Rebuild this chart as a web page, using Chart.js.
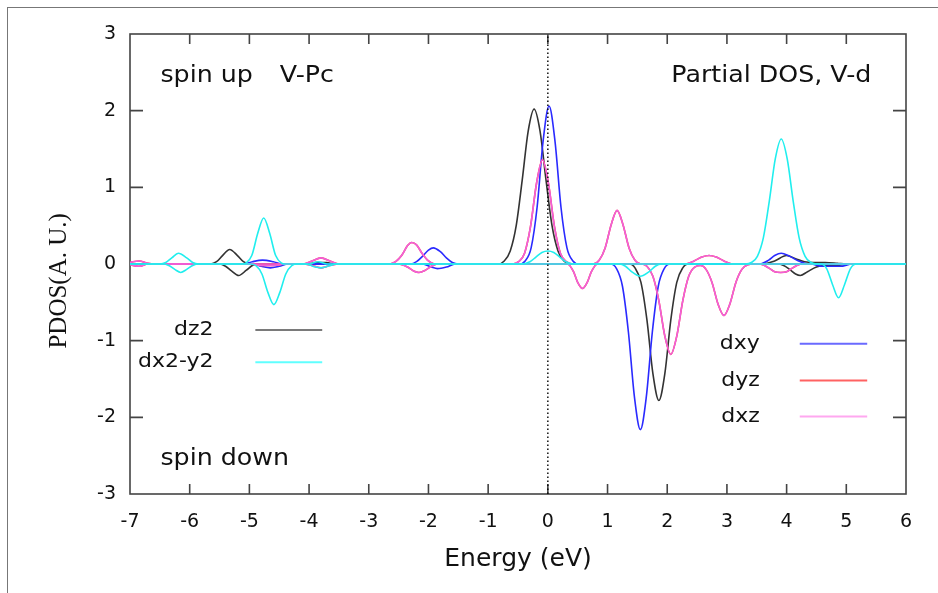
<!DOCTYPE html>
<html>
<head>
<meta charset="utf-8">
<title>Partial DOS, V-d</title>
<script src="https://cdn.jsdelivr.net/npm/chart.js@4.4.1/dist/chart.umd.min.js"></script>
<style>
  html, body { margin:0; padding:0; background:#fff; }
  #wrap { position:relative; width:938px; height:593px; overflow:hidden; }
  #frame { position:absolute; left:7px; top:7px; right:-10px; bottom:-10px; border-left:1.5px solid #777; border-top:1.5px solid #777; }
  #c { position:absolute; left:0; top:0; }
</style>
</head>
<body>
<div id="wrap"><div id="frame"></div><canvas id="c" width="938" height="593"></canvas></div>
<script>
// ----- Data: [energy (eV), PDOS] -----
const dz2Up = [[-7,0],[-5.65,0],[-5.55,0.03],[-5.45,0.11],[-5.33,0.19],[-5.2,0.11],[-5.1,0.03],[-5.0,0],[-4.0,0],[-3.9,0.02],[-3.7,0.02],[-3.6,0],
  [-0.83,0],[-0.73,0.04],[-0.63,0.17],[-0.53,0.50],[-0.43,1.09],[-0.33,1.73],[-0.23,2.02],[-0.13,1.73],[-0.03,1.09],[0.07,0.50],[0.17,0.17],[0.27,0.04],[0.37,0],
  [3.6,0],[3.8,0.04],[4.0,0.11],[4.15,0.07],[4.3,0.03],[4.45,0.02],[4.65,0.02],[4.85,0.01],[5.0,0],[6,0]];
const dz2Dn = [[-7,0],[-5.5,0],[-5.4,-0.03],[-5.3,-0.09],[-5.18,-0.15],[-5.05,-0.08],[-4.95,-0.02],[-4.85,0],
  [1.36,0],[1.46,-0.05],[1.56,-0.24],[1.66,-0.73],[1.76,-1.43],[1.86,-1.78],[1.96,-1.43],[2.06,-0.73],[2.16,-0.24],[2.26,-0.05],[2.36,0],
  [3.85,0],[3.95,-0.02],[4.05,-0.07],[4.15,-0.13],[4.23,-0.15],[4.35,-0.1],[4.5,-0.04],[4.65,-0.02],[4.85,-0.02],[5.0,0],[6,0]];

const dxyUp = [[-7,0],[-5.1,0],[-4.95,0.03],[-4.78,0.05],[-4.6,0.03],[-4.45,0],
  [-2.3,0],[-2.2,0.03],[-2.1,0.1],[-2.0,0.18],[-1.92,0.21],[-1.8,0.16],[-1.7,0.08],[-1.6,0.02],[-1.5,0],
  [-0.48,0],[-0.38,0.04],[-0.28,0.21],[-0.18,0.74],[-0.08,1.60],[0.02,2.06],[0.12,1.60],[0.22,0.74],[0.32,0.21],[0.42,0.04],[0.52,0],
  [3.55,0],[3.7,0.05],[3.8,0.11],[3.91,0.14],[4.05,0.1],[4.2,0.04],[4.35,0],[6,0]];
const dxyDn = [[-7,0],[-4.95,0],[-4.8,-0.03],[-4.65,-0.05],[-4.5,-0.03],[-4.35,0],
  [-2.1,0],[-1.95,-0.04],[-1.85,-0.06],[-1.7,-0.04],[-1.55,0],
  [1.05,0],[1.15,-0.06],[1.25,-0.29],[1.35,-0.89],[1.45,-1.73],[1.55,-2.16],[1.65,-1.73],[1.75,-0.89],[1.85,-0.29],[1.95,-0.06],[2.05,0],
  [4.4,0],[4.6,-0.03],[4.9,-0.03],[5.1,0],[6,0]];

// dyz and dxz lie on top of each other in the plot
const dxzUp = [[-7,0.02],[-6.85,0.04],[-6.7,0.01],[-6.6,0],[-4.1,0],[-3.95,0.04],[-3.8,0.08],[-3.65,0.04],[-3.5,0],
  [-2.65,0],[-2.55,0.03],[-2.45,0.11],[-2.35,0.24],[-2.28,0.28],[-2.2,0.25],[-2.1,0.13],[-2.0,0.04],[-1.9,0],
  [-0.59,0],[-0.49,0.03],[-0.39,0.14],[-0.29,0.49],[-0.19,1.05],[-0.09,1.36],[0.01,1.05],[0.11,0.49],[0.21,0.14],[0.31,0.03],[0.41,0],
  [0.76,0],[0.86,0.05],[0.96,0.21],[1.06,0.51],[1.16,0.70],[1.26,0.51],[1.36,0.21],[1.46,0.05],[1.56,0],
  [2.3,0],[2.45,0.04],[2.58,0.09],[2.7,0.11],[2.82,0.09],[2.95,0.04],[3.1,0],[6,0]];
const dxzDn = [[-7,-0.01],[-6.85,-0.03],[-6.7,0],[-5.0,0],[-4.8,-0.02],[-4.6,-0.02],[-4.4,0],[-4.1,0],[-3.95,-0.02],[-3.8,-0.05],[-3.65,-0.02],[-3.5,0],
  [-2.5,0],[-2.35,-0.04],[-2.25,-0.09],[-2.16,-0.11],[-2.05,-0.08],[-1.95,-0.03],[-1.85,0],
  [0.33,0],[0.43,-0.1],[0.5,-0.24],[0.58,-0.32],[0.66,-0.24],[0.73,-0.1],[0.83,0],
  [1.56,0],[1.66,-0.03],[1.76,-0.16],[1.86,-0.48],[1.96,-0.94],[2.06,-1.18],[2.16,-0.94],[2.26,-0.48],[2.36,-0.16],[2.46,-0.04],
  [2.56,-0.02],[2.65,-0.07],[2.75,-0.24],[2.85,-0.52],[2.95,-0.67],[3.05,-0.52],[3.15,-0.24],[3.25,-0.07],[3.35,-0.01],[3.45,0],
  [3.55,0],[3.7,-0.05],[3.8,-0.1],[3.9,-0.11],[4.0,-0.1],[4.1,-0.05],[4.25,0],[6,0]];
const dyzUp = dxzUp;
const dyzDn = dxzDn;

const dx2y2Up = [[-7,0],[-6.5,0],[-6.4,0.02],[-6.3,0.08],[-6.19,0.14],[-6.05,0.08],[-5.95,0.02],[-5.85,0],
  [-5.1,0],[-5.06,0.01],[-4.96,0.11],[-4.86,0.40],[-4.76,0.60],[-4.66,0.40],[-4.56,0.11],[-4.46,0.01],[-4.4,0],
  [-4.0,0],[-3.85,0.03],[-3.7,0],
  [-0.45,0],[-0.3,0.03],[-0.2,0.09],[-0.1,0.15],[0,0.17],[0.1,0.15],[0.2,0.09],[0.3,0.03],[0.45,0],
  [3.31,0],[3.41,0.02],[3.51,0.10],[3.61,0.34],[3.71,0.82],[3.81,1.37],[3.91,1.63],[4.01,1.37],[4.11,0.82],[4.21,0.34],[4.31,0.10],[4.41,0.02],[4.51,0],[6,0]];
const dx2y2Dn = [[-7,0],[-6.45,0],[-6.35,-0.02],[-6.25,-0.07],[-6.15,-0.11],[-6.05,-0.07],[-5.95,-0.02],[-5.85,0],
  [-4.99,0],[-4.89,-0.02],[-4.79,-0.13],[-4.69,-0.37],[-4.59,-0.53],[-4.49,-0.37],[-4.39,-0.13],[-4.29,-0.02],[-4.19,0],
  [-4.05,0],[-3.9,-0.04],[-3.8,-0.05],[-3.65,-0.02],[-3.55,0],
  [1.2,0],[1.3,-0.03],[1.42,-0.11],[1.55,-0.16],[1.68,-0.11],[1.8,-0.03],[1.9,0],
  [4.57,0],[4.67,-0.06],[4.77,-0.27],[4.87,-0.44],[4.97,-0.27],[5.07,-0.06],[5.17,0],[6,0]];

const fermi = [[0,-3],[0,3]];

// ----- Style -----
const SANS = '"DejaVu Sans", Verdana, sans-serif';
const SERIF = '"Liberation Serif", "Times New Roman", serif';
const TXT = '#111';
const STRETCH = 1.1;   // the original's lettering is a little wider than DejaVu
// name, up, down, line colour, key colour, paint order (lower = on top)
const ORBITALS = [
  ['dz2',    dz2Up,   dz2Dn,   '#333333', '#7a7a7a', 6],
  ['dxy',    dxyUp,   dxyDn,   '#2a2aff', '#6a6aff', 5],
  ['dyz',    dyzUp,   dyzDn,   '#ff3a3a', '#ff6262', 4],
  ['dxz',    dxzUp,   dxzDn,   '#f060dc', '#ffa8f0', 3],
  ['dx2-y2', dx2y2Up, dx2y2Dn, '#20eeee', '#60ffff', 2]
];
const KEY_LEFT  = { names:['dz2','dx2-y2'], textX:-5.6, lineX:[-4.9,-3.78], ys:[-0.86,-1.28] };
const KEY_RIGHT = { names:['dxy','dyz','dxz'], textX:3.55, lineX:[4.22,5.35], ys:[-1.04,-1.52,-1.99] };
const NOTES = [
  ['spin up', -6.49, 2.38, 'left'],
  ['V-Pc', -4.49, 2.38, 'left'],
  ['Partial DOS, V-d', 5.42, 2.38, 'right'],
  ['spin down', -6.49, -2.62, 'left']
];

// ----- Datasets -----
const toXY = arr => arr.map(p => ({x:p[0], y:p[1]}));
const datasets = [];
for (const [name, up, dn, col, , ord] of ORBITALS) {
  for (const part of [up, dn]) {
    datasets.push({ label:name, data:toXY(part), borderColor:col, borderWidth:1.6, order:ord,
      pointRadius:0, fill:false, cubicInterpolationMode:'monotone' });
  }
}
datasets.push({ label:'E_F', data:toXY(fermi), borderColor:'#000', borderWidth:1.4, borderDash:[1.5,2.5], order:1, pointRadius:0 });

// text drawn a bit wider than the font, anchored at its left or right end
function wideText(ctx, s, px, py, align){
  const w = ctx.measureText(s).width * STRETCH;
  const x0 = align === 'right' ? px - w : px;
  ctx.save();
  ctx.translate(x0, py); ctx.scale(STRETCH, 1);
  ctx.textAlign = 'left';
  ctx.fillText(s, 0, 0);
  ctx.restore();
}

// ----- Frame and inner ticks (under the curves), notes and key (over) -----
const deco = {
  id:'deco',
  beforeDatasetsDraw(chart){
    const {ctx, chartArea:a, scales:{x, y}} = chart;
    ctx.save();
    ctx.strokeStyle = '#444'; ctx.lineWidth = 1.6;
    ctx.strokeRect(a.left, a.top, a.right - a.left, a.bottom - a.top);
    ctx.beginPath();
    x.ticks.forEach(t => {
      if (t.value <= x.min || t.value >= x.max) return;
      const px = x.getPixelForValue(t.value);
      ctx.moveTo(px, a.bottom); ctx.lineTo(px, a.bottom - 10);
      ctx.moveTo(px, a.top); ctx.lineTo(px, a.top + 10);
    });
    y.ticks.forEach(t => {
      if (t.value <= y.min || t.value >= y.max) return;
      const py = y.getPixelForValue(t.value);
      ctx.moveTo(a.left, py); ctx.lineTo(a.left + 13, py);
      ctx.moveTo(a.right, py); ctx.lineTo(a.right - 13, py);
    });
    ctx.stroke();
    ctx.restore();
  },
  afterDatasetsDraw(chart){
    const {ctx, scales:{x, y}} = chart;
    ctx.save();
    ctx.fillStyle = TXT;
    ctx.font = '23px ' + SANS; ctx.textBaseline = 'alphabetic';
    NOTES.forEach(([s, vx, vy, al]) => wideText(ctx, s, x.getPixelForValue(vx), y.getPixelForValue(vy), al));

    ctx.font = '20px ' + SANS; ctx.textBaseline = 'middle';
    for (const key of [KEY_LEFT, KEY_RIGHT]) {
      key.names.forEach((n, i) => {
        const o = ORBITALS.find(r => r[0] === n);
        const py = y.getPixelForValue(key.ys[i]);
        ctx.fillStyle = TXT;
        wideText(ctx, n, x.getPixelForValue(key.textX), py, 'right');
        ctx.strokeStyle = o[4]; ctx.lineWidth = 2;
        ctx.beginPath(); ctx.moveTo(x.getPixelForValue(key.lineX[0]), py); ctx.lineTo(x.getPixelForValue(key.lineX[1]), py); ctx.stroke();
      });
    }

    // y axis title, set a bit below the middle like the original
    ctx.translate(59, y.getPixelForValue(-0.22));
    ctx.rotate(-Math.PI / 2);
    ctx.font = '25px ' + SERIF; ctx.textAlign = 'center'; ctx.textBaseline = 'middle'; ctx.fillStyle = TXT;
    ctx.fillText('PDOS(A. U.)', 0, 0);
    ctx.restore();
  }
};

// ----- Chart -----
new Chart(document.getElementById('c').getContext('2d'), {
  type:'line',
  data:{ datasets },
  options:{
    responsive:false, animation:false,
    layout:{ padding:{ top:34, right:32, left:0, bottom:0 } },
    plugins:{ legend:{display:false}, tooltip:{enabled:false} },
    scales:{
      x:{ type:'linear', min:-7, max:6,
          ticks:{ stepSize:1, padding:17, color:TXT, font:{family:SANS, size:19} },
          grid:{ display:false, drawTicks:false }, border:{ display:false },
          title:{ display:true, text:'Energy (eV)', color:TXT, font:{family:SANS, size:25}, padding:{top:0, bottom:19} },
          afterFit: s => { s.height = 99; } },
      y:{ type:'linear', min:-3, max:3,
          ticks:{ stepSize:1, padding:14, color:TXT, font:{family:SANS, size:19} },
          grid:{ display:false, drawTicks:false }, border:{ display:false },
          afterFit: s => { s.width = 130; } }
    }
  },
  plugins:[deco]
});
</script>
</body>
</html>
